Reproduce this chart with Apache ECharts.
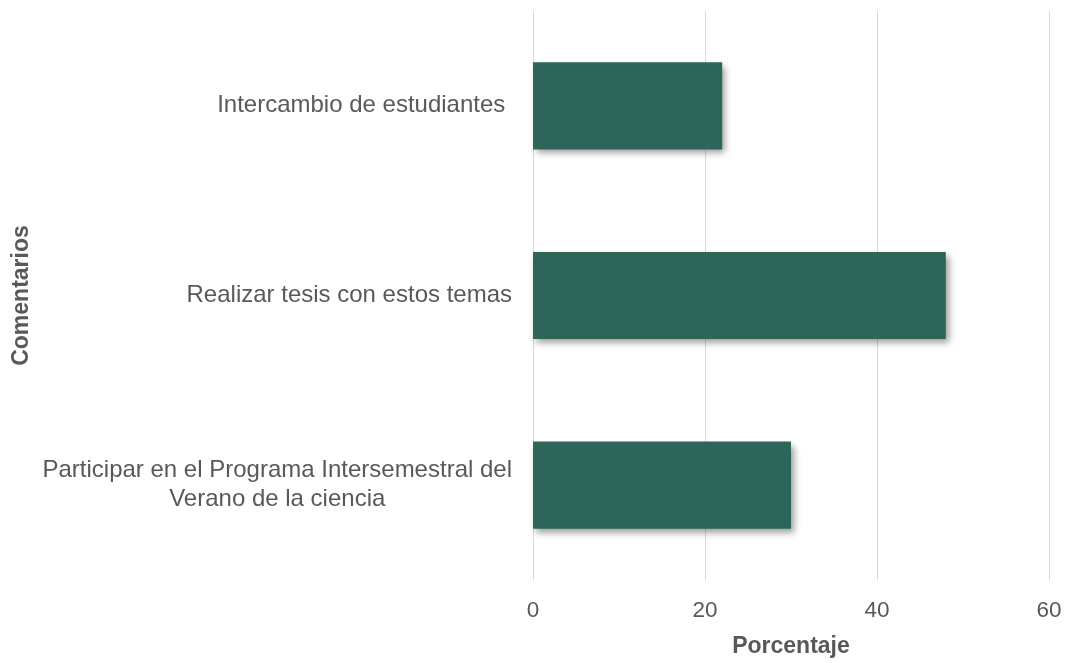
<!DOCTYPE html>
<html>
<head>
<meta charset="utf-8">
<script src="https://cdn.jsdelivr.net/npm/echarts@6/dist/echarts.min.js"></script>
<style>
html,body{margin:0;padding:0;background:#fff;}
#chart{width:1065px;height:663px;}
</style>
</head>
<body>
<div id="chart"></div>
<script>
const categories = [
  'Intercambio de estudiantes ',
  'Realizar tesis con estos temas',
  'Participar en el Programa Intersemestral del\nVerano de la ciencia'
];
const values = [22, 48, 30];
const xTicks = [0, 20, 40, 60];
const xAxisName = 'Porcentaje';
const yAxisName = 'Comentarios';

const FONT = '"Liberation Sans", Arial, sans-serif';
const TXT = '#595959';

const chart = echarts.init(document.getElementById('chart'));
chart.setOption({
  animation: false,
  backgroundColor: '#ffffff',
  grid: { left: 533, right: 16, top: 11, bottom: 80, containLabel: false },
  xAxis: {
    type: 'value',
    min: xTicks[0],
    max: xTicks[xTicks.length - 1],
    interval: xTicks[1] - xTicks[0],
    name: xAxisName,
    nameLocation: 'middle',
    nameGap: 55,
    nameTextStyle: { fontFamily: FONT, fontSize: 23, fontWeight: 'bold', color: TXT },
    axisLine: { show: false },
    axisTick: { show: false },
    axisLabel: { fontFamily: FONT, fontSize: 22.5, color: TXT, margin: 19 },
    splitLine: { show: true, lineStyle: { color: '#d9d9d9', width: 1 } }
  },
  yAxis: {
    type: 'category',
    inverse: true,
    data: categories,
    name: yAxisName,
    nameLocation: 'middle',
    nameGap: 500,
    nameTextStyle: { fontFamily: FONT, fontSize: 23, fontWeight: 'bold', color: TXT },
    axisLine: { show: false },
    axisTick: { show: false },
    splitLine: { show: false },
    axisLabel: {
      margin: 21,
      fontFamily: FONT,
      fontSize: 24,
      color: TXT,
      formatter: function (v) {
        return v.split('\n').map(function (l) { return '{c|' + l + '}'; }).join('\n');
      },
      rich: {
        c: { align: 'center', fontFamily: FONT, fontSize: 24, color: TXT, lineHeight: 29 }
      }
    }
  },
  series: [{
    type: 'bar',
    data: values,
    barWidth: '46%',
    itemStyle: {
      color: '#2D6658',
      shadowColor: 'rgba(0,0,0,0.4)',
      shadowBlur: 7,
      shadowOffsetX: 3,
      shadowOffsetY: 4
    }
  }]
});
</script>
</body>
</html>
